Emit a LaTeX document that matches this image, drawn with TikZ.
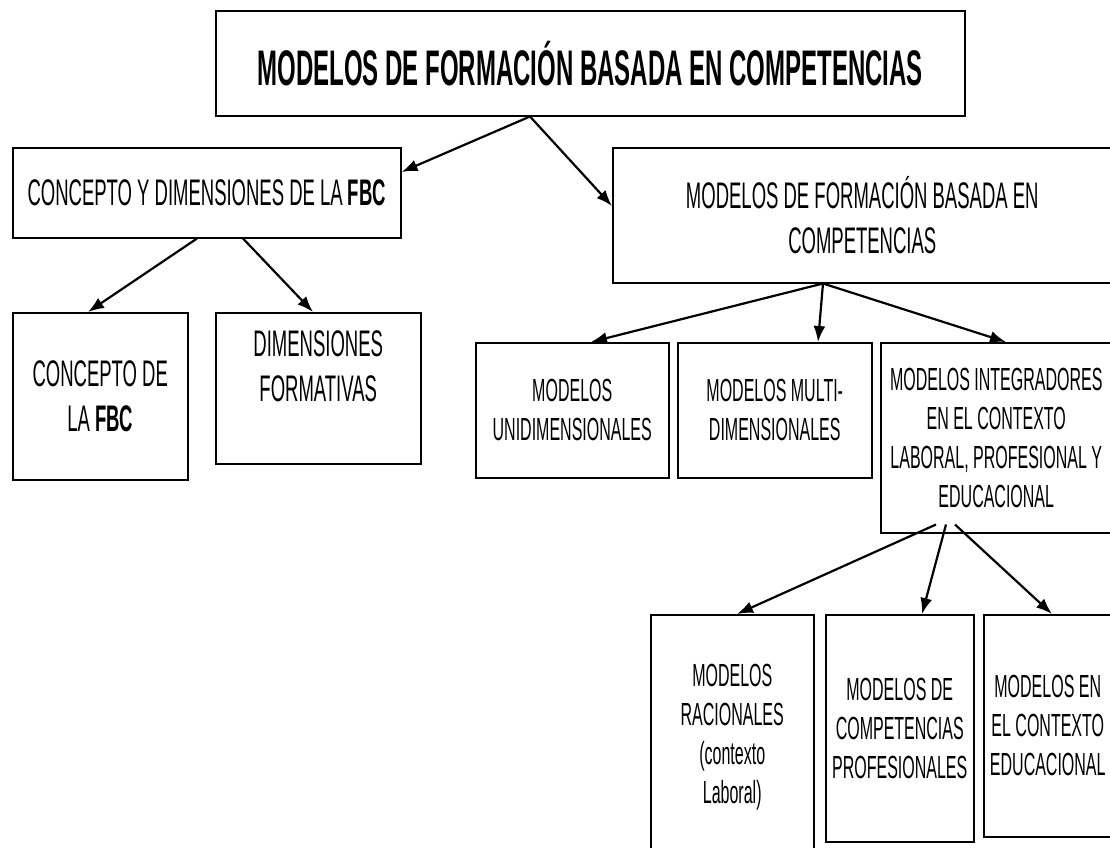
\documentclass[tikz,border=0pt]{standalone}
\usepackage{fontspec}
\setmainfont[FakeStretch=0.5]{Liberation Sans}
\newfontfamily\titlefont[FakeStretch=0.48]{Liberation Sans}
\usetikzlibrary{arrows.meta}

\begin{document}
\begin{tikzpicture}[x=1pt,y=-1pt,
    box/.style={draw,line width=1.5pt,anchor=north west,inner sep=0pt,align=center},
    big/.style={font=\fontsize{37}{45}\selectfont},
    small/.style={font=\fontsize{32}{39}\selectfont},
    arr/.style={line width=2.2pt,-{Latex[length=16pt,width=12pt]}}]

    %page:
    \useasboundingbox (0,0) rectangle (1110,847);
    \fill[white] (0,0) rectangle (1110,847);
    \clip (0,0) rectangle (1110,847);

    %draw boxes:
    \node[box,minimum width=749pt,minimum height=105pt,
        font={\titlefont\fontsize{50}{60}\selectfont\bfseries}] (titulo) at (215,10)
        {MODELOS DE FORMACIÓN BASADA EN COMPETENCIAS};

    \node[box,big,minimum width=388pt,minimum height=90pt] (concepto) at (12,147)
        {CONCEPTO Y DIMENSIONES DE LA \textbf{FBC}};
    \node[box,big,minimum width=499pt,minimum height=135pt] (modelos) at (612,147)
        {MODELOS DE FORMACIÓN BASADA EN\\COMPETENCIAS};

    \node[box,big,minimum width=175pt,minimum height=167pt] (cdef) at (12,312)
        {CONCEPTO DE\\LA \textbf{FBC}};
    \node[box,minimum width=205pt,minimum height=151pt,
        label={[big,anchor=north,align=center,inner sep=0pt,yshift=-18pt]north:DIMENSIONES\\FORMATIVAS}]
        (dimform) at (215,312) {};

    \node[box,small,minimum width=193pt,minimum height=135pt] (uni) at (475,342)
        {MODELOS\\UNIDIMENSIONALES};
    \node[box,small,minimum width=194pt,minimum height=135pt] (multi) at (677,342)
        {MODELOS MULTI-\\DIMENSIONALES};
    \node[box,small,minimum width=231pt,minimum height=190pt] (integ) at (880,342)
        {MODELOS INTEGRADORES\\EN EL CONTEXTO\\LABORAL, PROFESIONAL Y\\EDUCACIONAL};

    \node[box,small,minimum width=163pt,minimum height=244pt] (rac) at (650,614)
        {MODELOS\\RACIONALES\\(contexto\\Laboral)};
    \node[box,small,minimum width=148pt,minimum height=227pt] (comp) at (825,614)
        {MODELOS DE\\COMPETENCIAS\\PROFESIONALES};
    \node[box,small,minimum width=128pt,minimum height=222pt] (edu) at (983,614)
        {MODELOS EN\\EL CONTEXTO\\EDUCACIONAL};

    %draw arrows:
    \draw[arr] ([xshift=315pt]titulo.south west) -- ([yshift=-25pt]concepto.north east);
    \draw[arr] ([xshift=315pt]titulo.south west) -- ([yshift=-59pt]modelos.north west);

    \draw[arr] ([xshift=185pt]concepto.south west) -- ([xshift=76pt]cdef.north west);
    \draw[arr] ([xshift=231pt]concepto.south west) -- ([xshift=98pt]dimform.north west);

    \draw[arr] ([xshift=211pt]modelos.south west) -- ([xshift=116pt]uni.north west);
    \draw[arr] ([xshift=211pt]modelos.south west) -- ([xshift=141pt]multi.north west);
    \draw[arr] ([xshift=211pt]modelos.south west) -- ([xshift=126pt]integ.north west);

    \draw[arr] ([shift={(56pt,9pt)}]integ.south west) -- ([xshift=87pt]rac.north west);
    \draw[arr] ([shift={(66pt,9pt)}]integ.south west) -- ([xshift=97pt]comp.north west);
    \draw[arr] ([shift={(75pt,9pt)}]integ.south west) -- ([xshift=69pt]edu.north west);

\end{tikzpicture}
\end{document}
